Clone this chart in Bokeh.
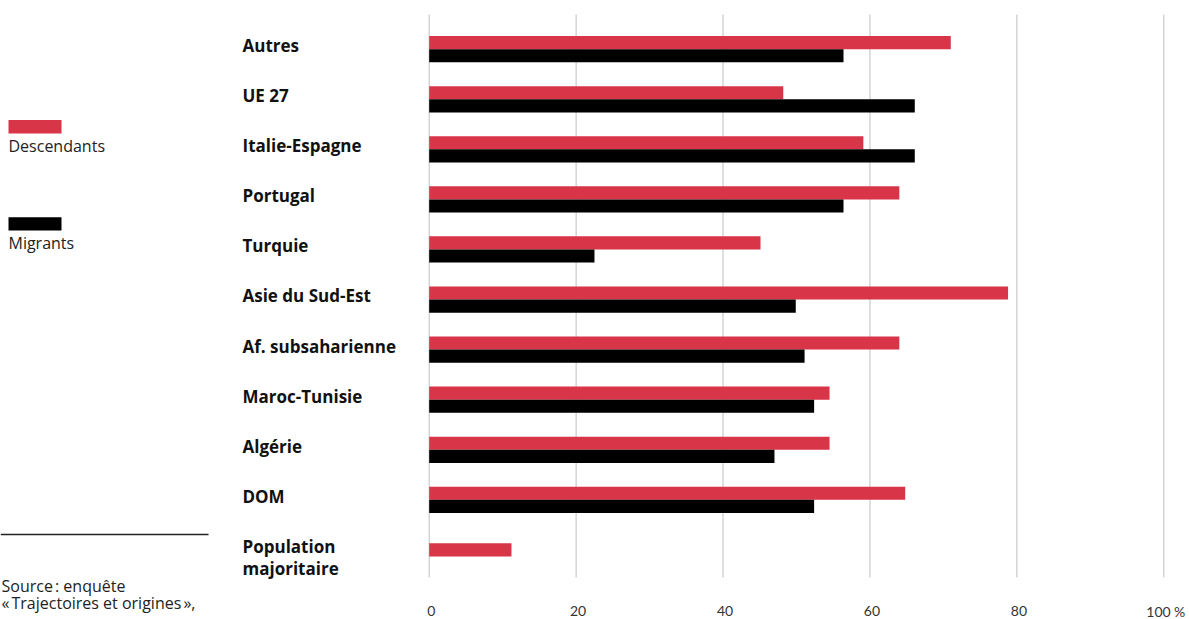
from bokeh.plotting import figure
from bokeh.models import Range1d, ColumnDataSource
from bokeh.embed import file_html
from bokeh.resources import INLINE
from bokeh.core.properties import value

# ---------------- data ----------------
categories = ["Autres", "UE 27", "Italie-Espagne", "Portugal", "Turquie",
              "Asie du Sud-Est", "Af. subsaharienne", "Maroc-Tunisie",
              "Algérie", "DOM", "Population\nmajoritaire"]
descendants = [71.0, 48.2, 59.1, 64.0, 45.1, 78.8, 64.0, 54.5, 54.5, 64.8, 11.2]
migrants = [56.4, 66.1, 66.1, 56.4, 22.5, 49.9, 51.1, 52.4, 47.0, 52.4, None]
series = ["Descendants", "Migrants"]
colors = ["#d93549", "#000000"]
ticks = [0, 20, 40, 60, 80, 100]
tick_labels = ["0", "20", "40", "60", "80", "100\u202f%"]
source_lines = ["Source\u202f: enquête", "«\u202fTrajectoires et origines\u202f»,"]

# ---------------- layout helpers (canvas pixels -> data) ----------------
n = len(categories)
W, H = 1189, 619
X0_PX, PPU_X = 428.7, 7.346          # pixel x of value 0, pixels per unit
TOP_ROW_PX, PPU_Y = 48.7, 50.07      # pixel y of first row, pixels per row
GRID_TOP, GRID_BOTTOM = 14, 577


def fix(size):
    # correction between requested and drawn alphabetic baseline (px)
    return 0.433 * size


def xd(px):
    return (px - X0_PX) / PPU_X


def yd(py):
    return (n - 1) - (py - TOP_ROW_PX) / PPU_Y


p = figure(width=W, height=H, min_border=0,
           x_range=Range1d(xd(0), xd(W)), y_range=Range1d(yd(H), yd(0)),
           x_axis_location=None, y_axis_location=None,
           output_backend="svg", toolbar_location=None)
p.outline_line_color = None
p.background_fill_color = "white"
p.border_fill_color = "white"
p.xgrid.grid_line_color = None
p.ygrid.grid_line_color = None

# ---------------- grid + tick labels ----------------
p.segment(x0=ticks, x1=ticks, y0=yd(GRID_TOP), y1=yd(GRID_BOTTOM),
          line_color="#bfbfbf", line_width=1)
TICK_FS = 14
p.text(x=ticks, y=[yd(617 - fix(TICK_FS))] * len(ticks), text=tick_labels,
       x_offset=2, text_align="center", text_baseline="alphabetic",
       text_font=value("Lato"), text_font_size=f"{TICK_FS}px",
       text_color="#333333")

# ---------------- bars ----------------
h = 0.262
ys = [n - 1 - i for i in range(n)]
red_y = [y + h / 2 if m is not None else y for y, m in zip(ys, migrants)]
p.hbar(y=red_y, left=0, right=descendants, height=h,
       fill_color=colors[0], line_color=None)
mig_y = [y - h / 2 for y, m in zip(ys, migrants) if m is not None]
mig_v = [m for m in migrants if m is not None]
p.hbar(y=mig_y, left=0, right=mig_v, height=h,
       fill_color=colors[1], line_color=None)

# ---------------- category labels ----------------
CAT_FS = 17
LAB_X_OFF = -(X0_PX - 242)
first = [c.split("\n")[0] for c in categories]
lab_src = ColumnDataSource(dict(x=[0] * n, y=ys, t=first))
p.text(x="x", y="y", text="t", source=lab_src, x_offset=LAB_X_OFF,
       y_offset=3.8 - fix(CAT_FS), text_align="left",
       text_baseline="alphabetic", text_font=value("Open Sans"),
       text_font_style="bold", text_font_size=f"{CAT_FS}px",
       text_color="#111111")
second_y = [y for y, c in zip(ys, categories) if "\n" in c]
second_t = [c.split("\n", 1)[1] for c in categories if "\n" in c]
p.text(x=[0] * len(second_y), y=second_y, text=second_t, x_offset=LAB_X_OFF,
       y_offset=3.8 - fix(CAT_FS) + 22, text_align="left",
       text_baseline="alphabetic", text_font=value("Open Sans"),
       text_font_style="bold", text_font_size=f"{CAT_FS}px",
       text_color="#111111")

# ---------------- legend ----------------
LEG_FS = 16
sw_tops = [119.5, 216.7]
for name, col, top in zip(series, colors, sw_tops):
    p.quad(left=xd(8), right=xd(61), top=yd(top), bottom=yd(top + 13.4),
           fill_color=col, line_color=None)
    p.text(x=[xd(8)], y=[yd(top + 32.5 - fix(LEG_FS))], text=[name],
           text_align="left", text_baseline="alphabetic",
           text_font=value("Open Sans"), text_font_size=f"{LEG_FS}px",
           text_color="#222222")

# ---------------- source ----------------
SRC_FS = 16
p.segment(x0=xd(0), x1=xd(208), y0=yd(534), y1=yd(534),
          line_color="#222222", line_width=1.5)
src_y = [yd(592 - fix(SRC_FS)), yd(609 - fix(SRC_FS))]
p.text(x=[xd(1)] * len(source_lines), y=src_y, text=source_lines,
       text_align="left", text_baseline="alphabetic",
       text_font=value("Open Sans"), text_font_size=f"{SRC_FS}px",
       text_color="#222222")

open("out.html", "w").write(file_html(p, INLINE))
